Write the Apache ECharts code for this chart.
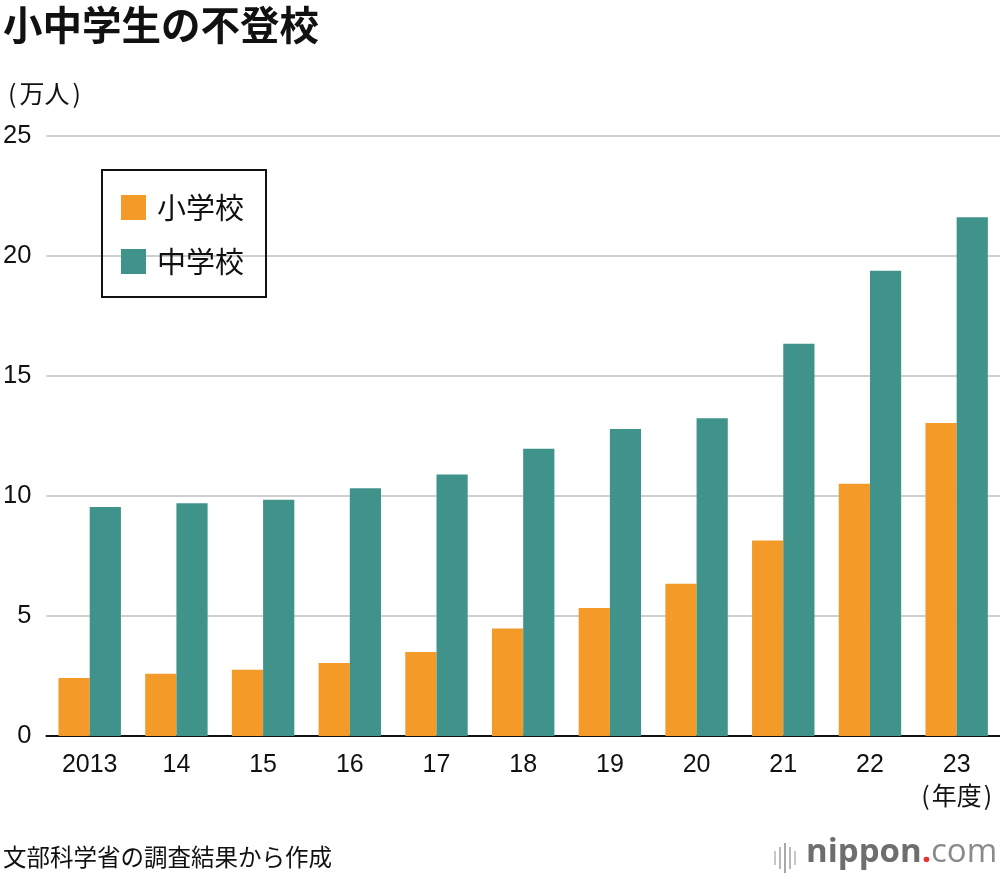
<!DOCTYPE html>
<html><head><meta charset="utf-8">
<script src="https://cdn.jsdelivr.net/npm/echarts@6/dist/echarts.min.js"></script>
<style>html,body{margin:0;padding:0;background:#fff}#c{width:1000px;height:880px}</style>
</head><body><div id="c"></div>
<script>
const categories = ['2013','14','15','16','17','18','19','20','21','22','23'];
const elementary = [2.42, 2.59, 2.76, 3.04, 3.50, 4.48, 5.33, 6.34, 8.15, 10.51, 13.04];
const juniorHigh = [9.54, 9.70, 9.84, 10.32, 10.90, 11.97, 12.79, 13.24, 16.34, 19.39, 21.61];
const yTicks = [0, 5, 10, 15, 20, 25];
const seriesNames = ['小学校', '中学校'];

const FONT = '"Noto Sans CJK JP","Noto Sans",sans-serif';
const NUM = '"Liberation Sans",Arial,sans-serif';
const chart = echarts.init(document.getElementById('c'), null, {renderer:'canvas'});
chart.setOption({
  animation:false,
  textStyle:{fontFamily:FONT},
  title:[
    {text:'小中学生の不登校', left:-2, top:0, textStyle:{fontSize:39.5, fontWeight:'bold', color:'#111', fontFamily:FONT}},
    {text:'{p|(}{t|万人}{p|)}', left:0, top:76, textStyle:{fontWeight:'normal', rich:{
      p:{fontSize:25, fontWeight:'normal', color:'#111', fontFamily:FONT, padding:[0,3,0,3]},
      t:{fontSize:25, fontWeight:'normal', color:'#111', fontFamily:FONT}
    }}},
    {text:'文部科学省の調査結果から作成', left:-2, top:840, textStyle:{fontSize:23.5, fontWeight:'normal', color:'#111', fontFamily:FONT}}
  ],
  legend:{
    left:102, top:170, orient:'vertical', itemWidth:25, itemHeight:25, itemGap:25,
    padding:[23, 22, 21, 19], borderColor:'#111', borderWidth:2, borderRadius:0,
    textStyle:{fontSize:29, color:'#111', fontFamily:FONT, padding:[0,0,0,6]},
    data:seriesNames, icon:'rect'
  },
  grid:{left:45.6, right:0, top:136, bottom:144, containLabel:false},
  xAxis:{
    type:'category', data:categories,
    axisLine:{lineStyle:{color:'#111', width:2}},
    axisTick:{show:false},
    axisLabel:{interval:0, color:'#111', margin:14,
      formatter:(v,i)=> i===categories.length-1 ? '{n|'+v+'}\n{p|(}{j|年度}{p|)}' : '{n|'+v+'}',
      rich:{
        n:{fontSize:25, fontFamily:NUM, color:'#111', lineHeight:30},
        j:{fontSize:25, fontFamily:FONT, color:'#111', lineHeight:30},
        p:{fontSize:25, fontFamily:FONT, color:'#111', lineHeight:30, padding:[0,2,0,2]}
      }}
  },
  yAxis:{
    type:'value', min:0, max:25, interval:5,
    axisLine:{show:false}, axisTick:{show:false},
    splitLine:{lineStyle:{color:'#cfcfcf', width:2}},
    axisLabel:{fontSize:25.5, color:'#111', margin:15, fontFamily:NUM,
      formatter:v=> yTicks.includes(v) ? String(v) : ''}
  },
  series:[
    {name:seriesNames[0], type:'bar', data:elementary, barGap:'0%', barCategoryGap:'28%', itemStyle:{color:'#F49A28'}},
    {name:seriesNames[1], type:'bar', data:juniorHigh, itemStyle:{color:'#40938A'}}
  ],
  graphic:[
    {type:'group', left:774, top:843, children:[
      {type:'rect', shape:{x:0,y:8,width:2,height:14}, style:{fill:'#c8c8c8'}},
      {type:'rect', shape:{x:5,y:4,width:2,height:22}, style:{fill:'#b8b8b8'}},
      {type:'rect', shape:{x:10,y:0,width:2,height:30}, style:{fill:'#a8a8a8'}},
      {type:'rect', shape:{x:15,y:4,width:2,height:22}, style:{fill:'#b8b8b8'}},
      {type:'rect', shape:{x:20,y:8,width:2,height:14}, style:{fill:'#c8c8c8'}}
    ]},
    {type:'text', left:806, top:836, style:{
      text:'{a|nippon}{b|.}{c|com}',
      rich:{
        a:{fontSize:33, fontWeight:'bold', fill:'#6e6e6e', fontFamily:'"Open Sans",sans-serif'},
        b:{fontSize:33, fontWeight:'bold', fill:'#e8322d', fontFamily:'"Open Sans",sans-serif'},
        c:{fontSize:33, fill:'#8a8a8a', fontFamily:'"Open Sans",sans-serif'}
      }
    }}
  ]
});
</script></body></html>
